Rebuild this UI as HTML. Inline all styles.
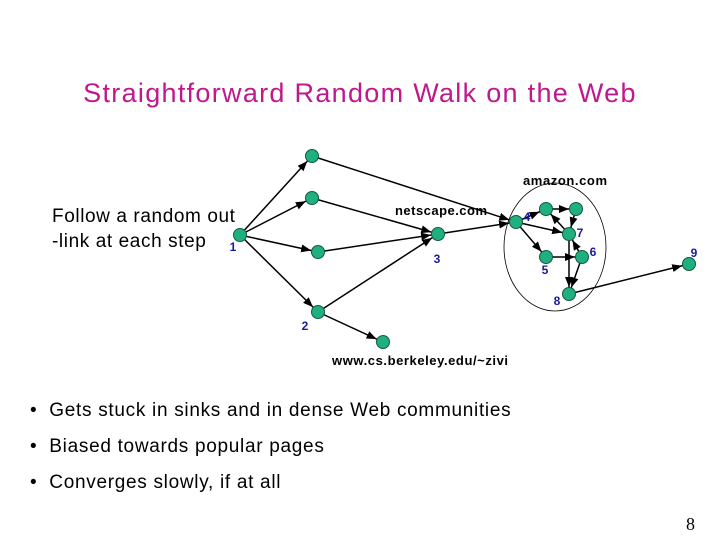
<!DOCTYPE html>
<html><head><meta charset="utf-8"><style>
body{margin:0;width:720px;height:540px;background:#fff;overflow:hidden;position:relative;font-family:"Liberation Sans",sans-serif}
.t{position:absolute;white-space:nowrap}
.b{letter-spacing:0.7px}
</style></head><body>
<div class="t" style="left:0;width:720px;text-align:center;top:78px;font-size:27px;letter-spacing:1.3px;color:#c0188c">Straightforward Random Walk on the Web</div>
<div class="t" style="left:52px;top:204px;font-size:19px;line-height:25px;letter-spacing:0.6px;color:#000">Follow a random out<br>-link at each step</div>
<div class="t b" style="left:30px;top:400px;font-size:19px">•&nbsp; Gets stuck in sinks and in dense Web communities</div>
<div class="t b" style="left:30px;top:436px;font-size:19px">•&nbsp; Biased towards popular pages</div>
<div class="t b" style="left:30px;top:472px;font-size:19px">•&nbsp; Converges slowly, if at all</div>
<div class="t" style="left:686px;top:514px;font-size:18px;font-family:'Liberation Serif',serif">8</div>
<svg width="720" height="540" style="position:absolute;left:0;top:0">
<defs><marker id="a" markerUnits="userSpaceOnUse" markerWidth="20" markerHeight="10" refX="17" refY="4" orient="auto"><path d="M0,0L10,4L0,8z" fill="#000"/></marker></defs>
<ellipse cx="555" cy="247" rx="51" ry="64" fill="none" stroke="#000" stroke-width="0.8"/>
<g stroke="#000" stroke-width="1.5" marker-end="url(#a)">
<line x1="240" y1="235" x2="312" y2="156"/>
<line x1="240" y1="235" x2="312" y2="198"/>
<line x1="240" y1="235" x2="318" y2="252"/>
<line x1="240" y1="235" x2="318" y2="312"/>
<line x1="312" y1="156" x2="516" y2="222"/>
<line x1="312" y1="198" x2="438" y2="234"/>
<line x1="318" y1="252" x2="438" y2="234"/>
<line x1="318" y1="312" x2="438" y2="234"/>
<line x1="318" y1="312" x2="383" y2="342"/>
<line x1="438" y1="234" x2="516" y2="222"/>
<line x1="516" y1="222" x2="546" y2="209"/>
<line x1="516" y1="222" x2="569" y2="234"/>
<line x1="516" y1="222" x2="546" y2="257"/>
<line x1="546" y1="209" x2="576" y2="209"/>
<line x1="569" y1="234" x2="546" y2="209"/>
<line x1="576" y1="209" x2="569" y2="234"/>
<line x1="569" y1="234" x2="569" y2="294"/>
<line x1="546" y1="257" x2="582" y2="257"/>
<line x1="582" y1="257" x2="569" y2="234"/>
<line x1="582" y1="257" x2="569" y2="294"/>
<line x1="569" y1="294" x2="689" y2="264"/>
</g>
<g fill="#20b080" stroke="#145a40" stroke-width="1">
<circle cx="240" cy="235" r="6.5"/><circle cx="312" cy="156" r="6.5"/><circle cx="312" cy="198" r="6.5"/>
<circle cx="318" cy="252" r="6.5"/><circle cx="318" cy="312" r="6.5"/><circle cx="383" cy="342" r="6.5"/>
<circle cx="438" cy="234" r="6.5"/><circle cx="516" cy="222" r="6.5"/><circle cx="546" cy="209" r="6.5"/>
<circle cx="576" cy="209" r="6.5"/><circle cx="569" cy="234" r="6.5"/><circle cx="546" cy="257" r="6.5"/>
<circle cx="582" cy="257" r="6.5"/><circle cx="569" cy="294" r="6.5"/><circle cx="689" cy="264" r="6.5"/>
</g>
<g fill="#1a1a9a" font-size="12" font-weight="bold" font-family="Liberation Sans,sans-serif" text-anchor="middle">
<text x="233" y="251">1</text><text x="305" y="330">2</text><text x="437" y="263">3</text><text x="527" y="221">4</text>
<text x="545" y="274">5</text><text x="593" y="256">6</text><text x="580" y="237">7</text><text x="557" y="305">8</text><text x="694" y="257">9</text>
</g>
<g fill="#000" font-size="13" font-weight="bold" font-family="Liberation Sans,sans-serif" text-anchor="middle">
<text x="565" y="185" textLength="84">amazon.com</text><text x="441" y="215" textLength="92">netscape.com</text><text x="420" y="365" textLength="176">www.cs.berkeley.edu/~zivi</text>
</g>
</svg>
</body></html>
